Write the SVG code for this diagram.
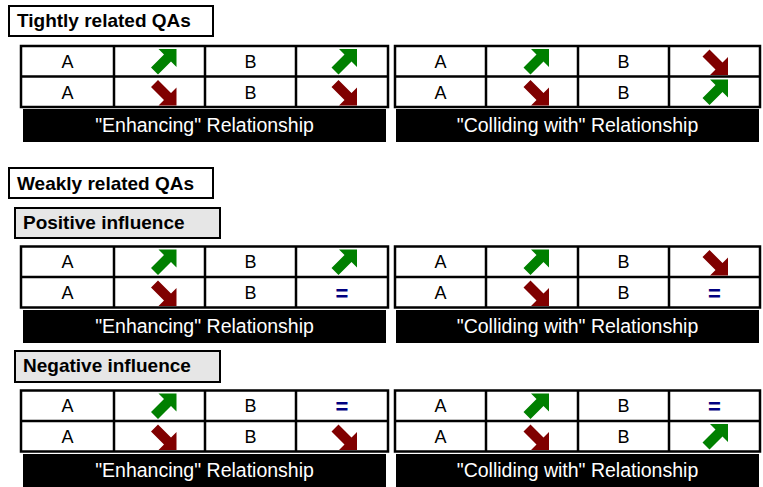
<svg xmlns="http://www.w3.org/2000/svg" xmlns:xlink="http://www.w3.org/1999/xlink" width="763" height="487" viewBox="0 0 763 487">
<style>
.bg{fill:#ffffff}
.hd{fill:#ffffff;stroke:#000;stroke-width:2}
.sub{fill:#e6e6e6;stroke:#000;stroke-width:2}
.ht{font-family:"Liberation Sans",Arial,sans-serif;font-weight:bold;font-size:19px;fill:#000}
.tb{fill:#ffffff;stroke:#000;stroke-width:2.5}
.ln{stroke:#000;stroke-width:2.5;fill:none}
.c{font-family:"Liberation Sans",Arial,sans-serif;font-size:18px;fill:#000;text-anchor:middle}
.eq{font-family:"Liberation Sans",Arial,sans-serif;font-size:22px;font-weight:bold;fill:#000080;text-anchor:middle}
.bar{fill:#000}
.bt{font-family:"Liberation Sans",Arial,sans-serif;font-size:19.5px;fill:#ffffff;text-anchor:middle}
</style>
<defs>
<path id="g" d="M8 0H26V18L20.5 12.5L7.5 25.5L0.5 18.5L13.5 5.5Z" fill="#008000"/>
<path id="r" d="M8 26H26V8L20.5 13.5L7.5 0.5L0.5 7.5L13.5 20.5Z" fill="#800000"/>
<g id="tl">
<rect class="tb" x="21" y="0" width="367" height="61"/>
<path class="ln" d="M21 30.5H388M114 0V61M205 0V61M296 0V61"/>
<text class="c" x="67.5" y="21.5">A</text>
<text class="c" x="250.5" y="21.5">B</text>
<text class="c" x="67.5" y="52.5">A</text>
<text class="c" x="250.5" y="52.5">B</text>
</g>
<g id="tr">
<rect class="tb" x="395" y="0" width="365" height="61"/>
<path class="ln" d="M395 30.5H760M486 0V61M578 0V61M669 0V61"/>
<text class="c" x="440.5" y="21.5">A</text>
<text class="c" x="623.5" y="21.5">B</text>
<text class="c" x="440.5" y="52.5">A</text>
<text class="c" x="623.5" y="52.5">B</text>
</g>
</defs>
<rect class="bg" x="0" y="0" width="763" height="487"/>

<g id="tightly-header">
<rect class="hd" x="9" y="6" width="204" height="30"/>
<text class="ht" x="17" y="27">Tightly related QAs</text>
</g>

<g id="tight-enhancing" transform="translate(0,46)">
<use href="#tl"/>
<use href="#g" x="150.5" y="3"/>
<use href="#g" x="331" y="3"/>
<use href="#r" x="150.5" y="33.5"/>
<use href="#r" x="331" y="33.5"/>
<rect class="bar" x="23" y="63" width="363" height="33"/>
<text class="bt" x="204.5" y="86">"Enhancing" Relationship</text>
</g>

<g id="tight-colliding" transform="translate(0,46)">
<use href="#tr"/>
<use href="#g" x="523" y="3"/>
<use href="#r" x="702" y="3"/>
<use href="#r" x="523" y="33.5"/>
<use href="#g" x="702" y="33.5"/>
<rect class="bar" x="396" y="63" width="363" height="33"/>
<text class="bt" x="577.5" y="86">"Colliding with" Relationship</text>
</g>

<g id="weakly-header">
<rect class="hd" x="9" y="168" width="204" height="30"/>
<text class="ht" x="17" y="190">Weakly related QAs</text>
</g>

<g id="positive-header">
<rect class="sub" x="15" y="208" width="205" height="30"/>
<text class="ht" x="23" y="229">Positive influence</text>
</g>

<g id="pos-enhancing" transform="translate(0,246.5)">
<use href="#tl"/>
<use href="#g" x="150.5" y="3"/>
<use href="#g" x="331" y="3"/>
<use href="#r" x="150.5" y="33.5"/>
<text class="eq" x="342" y="54">=</text>
<rect class="bar" x="23" y="63.5" width="363" height="33"/>
<text class="bt" x="204.5" y="86.5">"Enhancing" Relationship</text>
</g>

<g id="pos-colliding" transform="translate(0,246.5)">
<use href="#tr"/>
<use href="#g" x="523" y="3"/>
<use href="#r" x="702" y="3"/>
<use href="#r" x="523" y="33.5"/>
<text class="eq" x="714.5" y="54">=</text>
<rect class="bar" x="396" y="63.5" width="363" height="33"/>
<text class="bt" x="577.5" y="86.5">"Colliding with" Relationship</text>
</g>

<g id="negative-header">
<rect class="sub" x="15" y="351" width="205" height="31"/>
<text class="ht" x="23" y="372">Negative influence</text>
</g>

<g id="neg-enhancing" transform="translate(0,390.5)">
<use href="#tl"/>
<use href="#g" x="150.5" y="3"/>
<text class="eq" x="342" y="23.5">=</text>
<use href="#r" x="150.5" y="33.5"/>
<use href="#r" x="331" y="33.5"/>
<rect class="bar" x="23" y="63.5" width="363" height="33"/>
<text class="bt" x="204.5" y="86.5">"Enhancing" Relationship</text>
</g>

<g id="neg-colliding" transform="translate(0,390.5)">
<use href="#tr"/>
<use href="#g" x="523" y="3"/>
<text class="eq" x="714.5" y="23.5">=</text>
<use href="#r" x="523" y="33.5"/>
<use href="#g" x="702" y="33.5"/>
<rect class="bar" x="396" y="63.5" width="363" height="33"/>
<text class="bt" x="577.5" y="86.5">"Colliding with" Relationship</text>
</g>

<g id="connectors"></g>
</svg>
